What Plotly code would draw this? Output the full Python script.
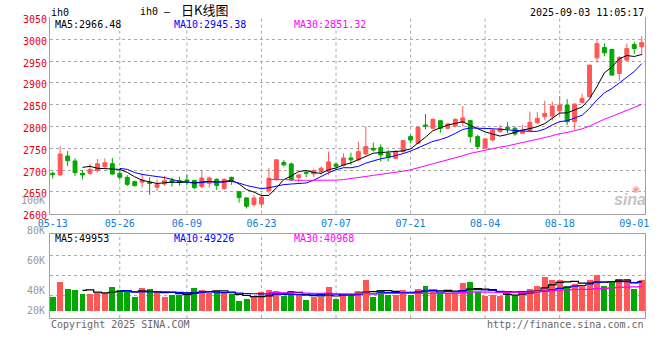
import plotly.graph_objects as go
import pandas as pd

# ---------------- data ----------------
dates = ["05-13","05-14","05-15","05-16","05-19","05-20","05-21","05-22","05-23",
         "05-26","05-27","05-28","05-29","05-30",
         "06-03","06-04","06-05","06-06","06-09","06-10","06-11","06-12","06-13",
         "06-16","06-17","06-18","06-19","06-20","06-23","06-24","06-25","06-26","06-27","06-30",
         "07-01","07-02","07-03","07-04","07-07","07-08","07-09","07-10","07-11",
         "07-14","07-15","07-16","07-17","07-18","07-21","07-22","07-23","07-24","07-25",
         "07-28","07-29","07-30","07-31",
         "08-01","08-04","08-05","08-06","08-07","08-08","08-11","08-12","08-13","08-14","08-15",
         "08-18","08-19","08-20","08-21","08-22","08-25","08-26","08-27","08-28","08-29",
         "09-01","09-02"]

open_ = [2692.6,2688.7,2732.2,2720.8,2692.6,2692.6,2698.7,2707.8,2714.7,2692.6,
         2683.4,2673.5,2672.0,2672.0,2660.6,2668.2,2676.0,2675.8,2677.3,2676.6,
         2662.1,2669.7,2678.8,2657.5,2683.4,2650.6,2636.2,2620.9,2622.0,2652.5,
         2677.7,2717.3,2714.2,2683.0,2695.0,2691.4,2696.6,2696.6,2713.5,2711.2,
         2727.8,2723.4,2737.0,2750.0,2751.5,2738.5,2727.0,2742.4,2776.7,2761.5,
         2803.4,2795.7,2813.2,2795.7,2801.0,2809.0,2813.3,2776.7,2750.0,2769.0,
         2788.2,2798.0,2795.8,2784.4,2790.5,2808.7,2822.5,2824.0,2836.0,2849.0,
         2811.0,2855.2,2868.2,2957.3,2981.0,2976.4,2921.5,2952.0,2987.8,2982.5]
high = [2696.4,2755.0,2743.6,2726.8,2700.2,2713.9,2725.3,2726.8,2727.6,2702.5,
        2688.7,2675.8,2692.6,2683.4,2678.8,2686.5,2682.6,2684.9,2690.3,2677.3,
        2698.7,2684.9,2681.1,2681.1,2684.9,2650.9,2637.7,2643.0,2646.0,2704.3,
        2725.0,2723.4,2717.3,2690.6,2700.0,2702.0,2708.0,2742.4,2717.3,2738.5,
        2740.0,2765.3,2799.6,2763.0,2759.2,2746.1,2746.1,2769.0,2780.5,2799.6,
        2828.5,2818.6,2814.8,2808.7,2818.6,2846.8,2813.6,2780.5,2773.0,2793.5,
        2803.4,2810.0,2799.6,2803.4,2833.9,2833.1,2859.0,2856.7,2869.7,2862.8,
        2853.0,2874.3,2940.9,2997.7,2990.0,2978.7,2961.1,2990.0,2993.9,3006.9]
low = [2680.4,2687.2,2709.0,2686.5,2678.8,2688.7,2694.1,2704.0,2688.7,2677.3,
       2663.6,2662.1,2659.8,2643.0,2652.2,2663.6,2662.0,2664.4,2664.4,2656.0,
       2658.3,2659.8,2654.5,2654.5,2665.9,2625.5,2611.8,2616.4,2614.0,2645.7,
       2676.0,2708.0,2675.4,2671.5,2683.0,2683.8,2689.0,2689.0,2700.5,2708.0,
       2711.9,2719.6,2734.7,2742.4,2719.6,2719.6,2725.0,2738.5,2761.5,2760.0,
       2793.5,2793.5,2785.8,2793.5,2798.0,2800.0,2763.0,2747.8,2748.5,2765.3,
       2785.9,2784.4,2778.3,2782.8,2788.2,2805.7,2815.0,2813.3,2826.3,2803.4,
       2793.5,2852.9,2866.6,2945.9,2961.1,2917.4,2904.8,2950.5,2965.7,2963.4]
close = [2689.5,2736.8,2721.5,2694.1,2688.7,2701.7,2714.7,2716.9,2691.0,2683.4,
         2667.4,2664.4,2677.3,2669.7,2667.4,2675.8,2672.0,2672.7,2674.3,2659.8,
         2681.9,2681.9,2664.4,2678.8,2678.8,2636.9,2617.1,2636.2,2638.0,2681.4,
         2723.4,2712.0,2677.7,2689.0,2693.0,2699.0,2704.3,2718.8,2709.0,2727.8,
         2723.4,2742.4,2753.8,2746.0,2734.7,2729.3,2742.4,2767.5,2769.0,2798.0,
         2801.0,2816.3,2795.7,2805.6,2816.3,2819.5,2776.7,2753.8,2771.4,2792.0,
         2795.8,2795.0,2782.8,2792.0,2809.5,2818.6,2830.0,2846.8,2849.0,2811.0,
         2851.4,2864.4,2940.6,2990.0,2968.8,2917.7,2958.0,2978.7,2978.7,2992.4]
volume = [23800,49200,37400,35700,28900,28900,30000,30600,40800,35700,
          31100,23800,39100,37400,31100,23800,27200,27200,32300,39100,
          35700,30600,34000,31100,28900,17000,20400,23800,31100,35700,
          34000,25500,34000,28900,18700,23800,23800,40800,20400,28900,
          25500,34000,52600,23800,35700,27200,27200,35700,27200,37400,
          42500,35700,28900,30600,30600,47500,49200,32300,25500,27200,
          25500,30600,27200,32300,37400,42500,57700,52600,52600,42500,
          45800,42500,52600,61100,42500,50900,54300,54300,37400,52600]

tick_dates = ["05-13","05-26","06-09","06-23","07-07","07-21","08-04","08-18","09-01"]
grid_dates = ["05-26","06-09","06-23","07-07","07-21","08-04","08-18"]
price_ticks = [2600,2650,2700,2750,2800,2850,2900,2950,3000,3050]
vol_labels = ["100K","80K","60K","40K","20K"]

title_code = "ih0"
title_name = "日K线图"
timestamp = "2025-09-03 11:05:17"
ma_price_text = ["MA5:2966.48", "MA10:2945.38", "MA30:2851.32"]
ma_vol_text = ["MA5:49953", "MA10:49226", "MA30:40968"]

# ---------------- styles ----------------
MONO = "DejaVu Sans Mono"
RED = "#ff5656"
GREEN = "#00a800"
GRID = "#a8a8a8"
AXIS = "#a0a0a0"
DATE_C = "#0a80dc"
MA_COLORS = ["#000000", "#0000ff", "#ff00ff"]
W, H = 660, 360
L, R, T, B = 50, 11, 17, 42
PW, PH = W - L - R, H - T - B

def px(x):
    return (x - L) / PW

def py(y):
    return (H - B - y) / PH

x = list(range(len(dates)))
tickvals = [dates.index(d) for d in tick_dates]
gridvals = [dates.index(d) for d in grid_dates]

s_close = pd.Series(close)
s_vol = pd.Series(volume)
ma_p = [s_close.rolling(n).mean() for n in (5, 10, 30)]
ma_v = [s_vol.rolling(n).mean() for n in (5, 10, 30)]
bar_colors = [RED if c > o else GREEN for o, c in zip(open_, close)]

fig = go.Figure()
fig.add_trace(go.Candlestick(
    x=x, open=open_, high=high, low=low, close=close,
    increasing=dict(line=dict(color=RED, width=1), fillcolor=RED),
    decreasing=dict(line=dict(color=GREEN, width=1), fillcolor=GREEN),
    whiskerwidth=0, xaxis="x", yaxis="y", hoverinfo="skip"))
for s, c in zip(ma_p, MA_COLORS):
    fig.add_trace(go.Scatter(x=x, y=s, mode="lines", line=dict(color=c, width=1),
                             xaxis="x", yaxis="y", hoverinfo="skip"))

fig.add_trace(go.Bar(x=x, y=volume, marker=dict(color=bar_colors, line=dict(width=0)),
                     width=0.8, xaxis="x2", yaxis="y2", hoverinfo="skip"))
for s, c in zip(ma_v, MA_COLORS):
    fig.add_trace(go.Scatter(x=x, y=s, mode="lines", line=dict(color=c, width=1.2, shape="hvh"),
                             xaxis="x2", yaxis="y2", hoverinfo="skip"))

price_dom = [py(213.7), py(17.4)]
vol_dom = [0, py(234.3)]
# volume: baseline at y=311, ~1698 per pixel
vol_per_px = 1698
vol_range = [-(318 - 311) * vol_per_px, (311 - 234.3) * vol_per_px]
vol_grid = [(311 - yy) * vol_per_px for yy in (255.7, 275.3, 295.3)]

fig.update_layout(
    width=W, height=H, margin=dict(l=L, r=R, t=T, b=B),
    paper_bgcolor="white", plot_bgcolor="white", showlegend=False, boxgap=0.25,
    bargap=0,
    xaxis=dict(domain=[0, 1], anchor="y", range=[-0.36, 79.44],
               tickmode="array", tickvals=tickvals, ticktext=tick_dates,
               showgrid=False, showline=True, linecolor=AXIS, linewidth=1,
               ticks="", zeroline=False, rangeslider=dict(visible=False),
               tickfont=dict(family=MONO, size=10, color=DATE_C)),
    yaxis=dict(domain=price_dom, anchor="x", range=[2600, 3050],
               tickmode="array", tickvals=price_ticks,
               showgrid=True, gridcolor=GRID, griddash="dot", gridwidth=1,
               showline=True, linecolor=AXIS, mirror=True, ticks="", zeroline=False,
               tickfont=dict(family=MONO, size=10, color="#ee0000"), ticklabelshift=2),
    xaxis2=dict(domain=[0, 1], anchor="y2", range=[-0.36, 79.44], showticklabels=False,
                showgrid=False, showline=True, mirror=True,
                linecolor=AXIS, ticks="", zeroline=False),
    yaxis2=dict(domain=vol_dom, anchor="x2", range=vol_range, tickmode="array",
                tickvals=vol_grid, showticklabels=False, showgrid=True, gridcolor=GRID,
                griddash="dot", gridwidth=1, showline=True, mirror=True, linecolor=AXIS,
                ticks="", zeroline=False),
)

# vertical dotted grid lines at the labelled Mondays
shapes = []
for g in gridvals:
    for xr, yr in (("x", "y domain"), ("x2", "y2 domain")):
        shapes.append(dict(type="line", xref=xr, yref=yr, x0=g, x1=g, y0=0, y1=1,
                           layer="below", line=dict(color=GRID, width=1, dash="dot")))
fig.update_layout(shapes=shapes)

ann = []
def text(s, xp, yp, color="#000", size=10, anchor="left", family=MONO):
    ann.append(dict(text=s, x=px(xp), y=py(yp), xref="paper", yref="paper",
                    xanchor=anchor, yanchor="middle", showarrow=False,
                    font=dict(family=family, size=size, color=color)))

text(title_code, 49, 12)
text(title_code + " –", 139, 11)
text(title_name, 180, 10, size=13, family="Noto Sans CJK SC")
text(timestamp, 650, 12, anchor="right")
for s, c, xp in zip(ma_price_text, MA_COLORS, (53, 173, 294)):
    text(s, xp, 24, color=c)
for s, c, xp in zip(ma_vol_text, MA_COLORS, (53, 173, 294)):
    text(s, xp, 238.5, color=c)
for s, yp in zip(vol_labels, (200.7, 230.7, 260.7, 290.7, 310.7)):
    text(s, 47, yp, color="#999999", anchor="right")
text("Copyright 2025 SINA.COM", 49, 324, color="#666666")
text("http://finance.sina.com.cn", 650, 324, color="#666666", anchor="right")
text("<i><b>sina</b></i>", 652, 199, color="#c4c4c4", size=16, anchor="right", family="Liberation Sans")
text("◉", 634, 189, color="#f4a0a0", size=9, anchor="left", family="DejaVu Sans")
fig.update_layout(annotations=ann)

fig.write_html("out.html", config={"displayModeBar": False},
               post_script="document.body.style.margin='0px';document.body.style.padding='0px';")
